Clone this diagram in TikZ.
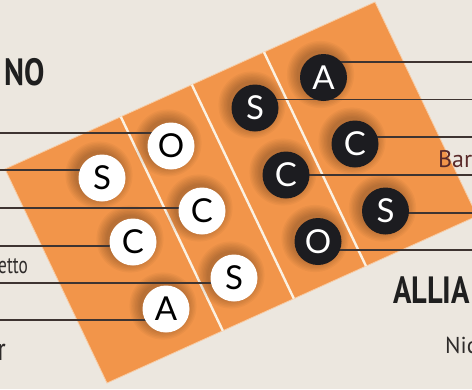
\documentclass[tikz,border=0pt]{standalone}
\usepackage{fontspec}
\usetikzlibrary{calc}
\newfontfamily\lettfont{Lato}
\newfontfamily\labfont{PT Sans}
\newfontfamily\condfont{PT Sans}[FakeStretch=0.8]
\newfontfamily\narrowfont{PT Sans}[FakeStretch=0.72]
\definecolor{bg}{HTML}{ECE7DF}
\definecolor{panel}{HTML}{F2954A}
\definecolor{divider}{HTML}{FBF1E2}
\definecolor{leadc}{HTML}{3E3431}
\definecolor{disk}{HTML}{1C1C20}
\definecolor{maroonc}{HTML}{5A2A2A}
\definecolor{textc}{HTML}{2E2B2A}
\newcommand\diskshadow[1]{%
  \foreach \k in {1,...,8}{\fill[black,opacity=0.032] ($(#1)+(-3,-3)$) circle ({35pt-1.4pt*\k});}}
\begin{document}
\begin{tikzpicture}[x=1pt,y=-1pt,
  leader/.style={draw=leadc,line width=1.4pt},
  wdisk/.style={circle,fill=white,minimum size=47pt,inner sep=0pt,text=black,font=\lettfont\fontsize{33}{33}\selectfont},
  bdisk/.style={circle,fill=disk,minimum size=47pt,inner sep=0pt,text=white,font=\lettfont\fontsize{33}{33}\selectfont},
  divline/.style={draw=divider,line width=2.4pt},
  lab/.style={inner sep=0pt,text=textc,font=\labfont\fontsize{23}{23}\selectfont},
  head/.style={inner sep=0pt,text=black!88,font=\condfont\bfseries\fontsize{38}{38}\selectfont}
]
\fill[bg] (0,0) rectangle (472,389);
\useasboundingbox (0,0) rectangle (472,389);
\clip (0,0) rectangle (472,389);
% panel
\coordinate (L) at (5,169);
\coordinate (T) at (375,2);
\coordinate (R) at (477,216);
\coordinate (B) at (107,383);
\fill[panel,draw=divider!60!panel,line width=0.8pt] (L) -- (T) -- (R) -- (B) -- cycle;
\foreach \t in {0.313,0.505,0.70}{\draw[divline] ($(L)!\t!(T)$) -- ($(B)!\t!(R)$);}
% disk centres
\coordinate (wS1) at (102,178);
\coordinate (wC1) at (133,242);
\coordinate (wA1) at (166,309);
\coordinate (wO2) at (171,146);
\coordinate (wC2) at (202,211);
\coordinate (wS2) at (234,278);
\coordinate (bS3) at (255,108);
\coordinate (bC3) at (286,175);
\coordinate (bO3) at (318,241.5);
\coordinate (bA4) at (323.5,77.5);
\coordinate (bC4) at (355,144);
\coordinate (bS4) at (385.5,211);
% shadows
\foreach \c in {wS1,wC1,wA1,wO2,wC2,wS2,bS3,bC3,bO3,bA4,bC4,bS4}{\diskshadow{\c}}
% leader line ends
\coordinate (l1) at (0,133);
\coordinate (l2) at (0,170);
\coordinate (l3) at (0,208);
\coordinate (l4) at (0,246);
\coordinate (l5) at (0,283);
\coordinate (l6) at (0,320);
\coordinate (r1) at (472,62);
\coordinate (r2) at (472,99.5);
\coordinate (r3) at (472,137);
\coordinate (r4) at (472,175);
\coordinate (r5) at (472,213);
\coordinate (r6) at (472,250);
\draw[leader] (l1) -- (l1 -| wO2);
\draw[leader] (l2) -- (l2 -| wS1);
\draw[leader] (l3) -- (l3 -| wC2);
\draw[leader] (l4) -- (l4 -| wC1);
\draw[leader] (l5) -- (l5 -| wS2);
\draw[leader] (l6) -- (l6 -| wA1);
\draw[leader] (r1) -- (r1 -| bA4);
\draw[leader] (r2) -- (r2 -| bS3);
\draw[leader] (r3) -- (r3 -| bC4);
\draw[leader] (r4) -- (r4 -| bC3);
\draw[leader] (r5) -- (r5 -| bS4);
\draw[leader] (r6) -- (r6 -| bO3);
% disks
\node[wdisk] (nS1) at (wS1) {S};
\node[wdisk] (nC1) at (wC1) {C};
\node[wdisk] (nA1) at (wA1) {A};
\node[wdisk] (nO2) at (wO2) {O};
\node[wdisk] (nC2) at (wC2) {C};
\node[wdisk] (nS2) at (wS2) {S};
\node[bdisk] (nS3) at (bS3) {S};
\node[bdisk] (nC3) at (bC3) {C};
\node[bdisk] (nO3) at (bO3) {O};
\node[bdisk] (nA4) at (bA4) {A};
\node[bdisk] (nC4) at (bC4) {C};
\node[bdisk] (nS4) at (bS4) {S};
% texts
\node[head,anchor=base east] (hNO) at (45,85) {NO};
\node[head,anchor=base west] (hAL) at (393,303) {ALLIA};
\node[lab,anchor=base east,font=\narrowfont\fontsize{24}{24}\selectfont] (tEt) at (28,273) {etto};
\node[lab,anchor=base east,font=\narrowfont\fontsize{32}{32}\selectfont] (tR) at (6,360) {r};
\node[lab,anchor=base west,text=maroonc,font=\labfont\fontsize{24}{24}\selectfont] (tBar) at (438,167) {Bar};
\node[lab,anchor=base west] (tNic) at (445,353) {Nic};
\end{tikzpicture}
\end{document}
